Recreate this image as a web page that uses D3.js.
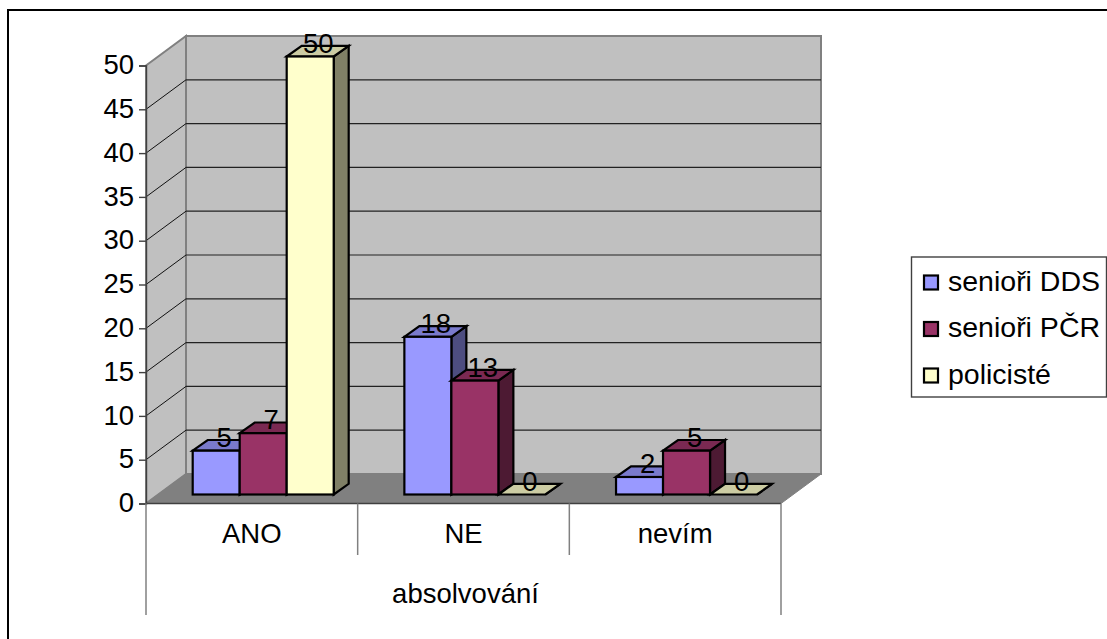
<!DOCTYPE html>
<html>
<head>
<meta charset="utf-8">
<style>
  html, body { margin: 0; padding: 0; background: #fff; overflow: hidden; }
  text { font-family: "Liberation Sans", Arial, sans-serif; fill: #000; }
</style>
</head>
<body>
<div id="chart"></div>
<script src="https://d3js.org/d3.v7.min.js"></script>
<script>
  var categories = ["ANO", "NE", "nevím"];
  var groupLabel = "absolvování";
  var seriesNames = ["senioři DDS", "senioři PČR", "policisté"];
  var seniorsDDS = [5, 18, 2];
  var seniorsPCR = [7, 13, 5];
  var police = [50, 0, 0];
  var seriesValues = [seniorsDDS, seniorsPCR, police];
  var yTicks = [0, 5, 10, 15, 20, 25, 30, 35, 40, 45, 50];

  var front = ["#9999ff", "#993366", "#ffffcc"];
  var top3d = ["#7a7acc", "#7a2952", "#cccca3"];
  var side = ["#4d4d80", "#4d1a33", "#808066"];

  var width = 1107, height = 639;
  var svg = d3.select("#chart").append("svg")
    .attr("width", width).attr("height", height)
    .style("display", "block");

  // Outer frame: only the top and left edges fall inside the picture
  svg.append("path")
    .attr("d", "M8,639V10H1107")
    .attr("fill", "none").attr("stroke", "#000").attr("stroke-width", 2);

  // Scales: y is the front edge of the box, depth shifts it back
  var y = d3.scaleLinear().domain([0, 50]).range([503.5, 65.5]);
  var x0 = d3.scaleBand().domain(categories).range([146, 781]);
  var depth = {x: 40, y: -29.5};
  var barDepth = {x: 15, y: -10.7};
  var barShift = -9;
  var barInset = 46.7;
  var barW = 47;

  function pts(a) { return a.map(function(p) { return p.join(","); }).join(" "); }

  var xL = x0.range()[0], xR = x0.range()[1], y0 = y(0), yT = y(50);

  // Walls and floor
  svg.append("polygon").attr("points", pts([[xL, yT], [xL + depth.x, yT + depth.y], [xL + depth.x, y0 + depth.y], [xL, y0]]))
    .attr("fill", "#c0c0c0").attr("stroke", "#808080").attr("stroke-width", 2);
  svg.append("rect").attr("x", xL + depth.x).attr("y", yT + depth.y)
    .attr("width", xR - xL).attr("height", y0 - yT)
    .attr("fill", "#c0c0c0").attr("stroke", "#808080").attr("stroke-width", 2);
  svg.append("polygon").attr("points", pts([[xL, y0], [xL + depth.x, y0 + depth.y], [xR + depth.x, y0 + depth.y], [xR, y0]]))
    .attr("fill", "#808080").attr("stroke", "#808080");

  // Gridlines on both walls
  yTicks.slice(1, -1).forEach(function(t) {
    svg.append("line").attr("x1", xL).attr("y1", y(t)).attr("x2", xL + depth.x).attr("y2", y(t) + depth.y)
      .attr("stroke", "#111").attr("stroke-width", 1);
    svg.append("line").attr("x1", xL + depth.x).attr("y1", y(t) + depth.y).attr("x2", xR + depth.x).attr("y2", y(t) + depth.y)
      .attr("stroke", "#222").attr("stroke-width", 1.2);
  });

  // Y axis
  var yAxis = svg.append("g").attr("transform", "translate(" + xL + ",0)")
    .call(d3.axisLeft(y).tickValues(yTicks).tickSize(7).tickPadding(5));
  yAxis.selectAll("path, line").attr("stroke", "#404040").attr("stroke-width", 1.4);
  yAxis.selectAll("text").style("font-size", "27.5px").attr("fill", "#000").attr("dy", "0.3em")
    .style("font-family", '"Liberation Sans", Arial, sans-serif');

  // Bars, drawn back to front within each group
  var barH = d3.scaleLinear().domain([0, 50]).range([0, y0 - yT]);
  categories.forEach(function(c, i) {
    seriesValues.forEach(function(vals, s) {
      var v = vals[i];
      var bx = x0(c) + barInset + s * barW;
      var bb = y0 + barShift;
      var bt = bb - barH(v);
      var g = svg.append("g").attr("stroke", "#000").attr("stroke-width", 2.2).attr("stroke-linejoin", "miter");
      g.append("polygon").attr("points", pts([[bx + barW, bt], [bx + barW + barDepth.x, bt + barDepth.y], [bx + barW + barDepth.x, bb + barDepth.y], [bx + barW, bb]]))
        .attr("fill", side[s]);
      g.append("polygon").attr("points", pts([[bx, bt], [bx + barDepth.x, bt + barDepth.y], [bx + barW + barDepth.x, bt + barDepth.y], [bx + barW, bt]]))
        .attr("fill", top3d[s]);
      if (v > 0) g.append("rect").attr("x", bx).attr("y", bt).attr("width", barW).attr("height", bb - bt).attr("fill", front[s]);
    });
  });

  // Data labels on top of all bars
  categories.forEach(function(c, i) {
    seriesValues.forEach(function(vals, s) {
      var v = vals[i];
      svg.append("text")
        .attr("x", x0(c) + barInset + s * barW + barW / 2 + 8)
        .attr("y", y0 + barShift - barH(v) - 4)
        .attr("text-anchor", "middle")
        .style("font-size", "27.5px")
        .text(v);
    });
  });

  // Category axis: multi-level separators
  var sepStroke = "#808080";
  svg.append("line").attr("x1", xL).attr("y1", y0).attr("x2", xR).attr("y2", y0).attr("stroke", "#404040").attr("stroke-width", 1.4);
  svg.append("line").attr("x1", xL).attr("y1", y0).attr("x2", xL).attr("y2", 615).attr("stroke", sepStroke).attr("stroke-width", 1.5);
  svg.append("line").attr("x1", xR).attr("y1", y0).attr("x2", xR).attr("y2", 615).attr("stroke", sepStroke).attr("stroke-width", 1.5);
  categories.slice(1).forEach(function(c) {
    svg.append("line").attr("x1", x0(c)).attr("y1", y0).attr("x2", x0(c)).attr("y2", 555).attr("stroke", sepStroke).attr("stroke-width", 1.5);
  });
  categories.forEach(function(c) {
    svg.append("text").attr("x", x0(c) + x0.bandwidth() / 2).attr("y", 543)
      .attr("text-anchor", "middle").style("font-size", "27.5px").text(c);
  });
  svg.append("text").attr("x", (xL + xR) / 2 + 2).attr("y", 603)
    .attr("text-anchor", "middle").style("font-size", "27.5px").text(groupLabel);

  // Legend
  svg.append("rect").attr("x", 911.5).attr("y", 257).attr("width", 195).attr("height", 140)
    .attr("fill", "#fff").attr("stroke", "#404040").attr("stroke-width", 1.4);
  var legendY = d3.scalePoint().domain(seriesNames).range([282.5, 375.5]);
  seriesNames.forEach(function(n, s) {
    svg.append("rect").attr("x", 924).attr("y", legendY(n) - 7).attr("width", 14).attr("height", 14)
      .attr("fill", front[s]).attr("stroke", "#000").attr("stroke-width", 2.2);
    svg.append("text").attr("x", 948).attr("y", legendY(n) + 8)
      .style("font-size", "28.5px").text(n);
  });
</script>
</body>
</html>
